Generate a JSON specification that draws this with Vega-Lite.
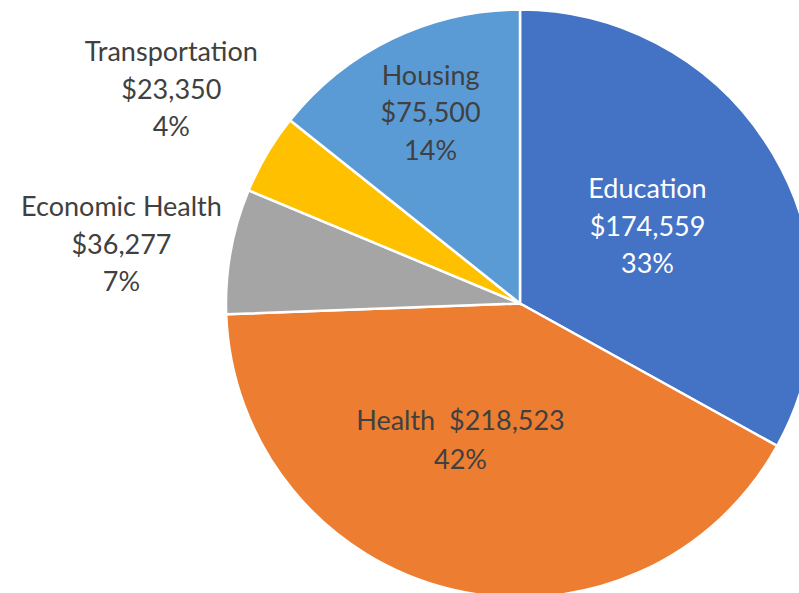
{
  "$schema": "https://vega.github.io/schema/vega-lite/v6.json",
  "autosize": "none",
  "width": 558,
  "height": 579,
  "padding": {"left": 241, "top": 14, "right": 0, "bottom": 0},
  "background": "white",
  "config": {"view": {"stroke": null}},
  "data": {
    "values": [
      {"rank": 1, "category": "Education", "amount": 174559, "label": "Education\n$174,559\n33%"},
      {"rank": 2, "category": "Health", "amount": 218523, "label": "Health\u00a0\u00a0$218,523\n42%"},
      {"rank": 3, "category": "Economic Health", "amount": 36277, "label": "Economic Health\n$36,277\n7%"},
      {"rank": 4, "category": "Transportation", "amount": 23350, "label": "Transportation\n$23,350\n4%"},
      {"rank": 5, "category": "Housing", "amount": 75500, "label": "Housing\n$75,500\n14%"}
    ]
  },
  "encoding": {
    "theta": {"field": "amount", "type": "quantitative", "stack": true},
    "order": {"field": "rank", "type": "quantitative"}
  },
  "layer": [
    {
      "mark": {"type": "arc", "outerRadius": 294, "stroke": "white", "strokeWidth": 2.5},
      "encoding": {
        "color": {
          "field": "category",
          "type": "nominal",
          "scale": {
            "domain": ["Education", "Health", "Economic Health", "Transportation", "Housing"],
            "range": ["#4472C4", "#ED7D31", "#A5A5A5", "#FFC000", "#5B9BD5"]
          },
          "legend": null
        }
      }
    },
    {
      "mark": {"type": "text", "radius": 148, "dy": -38, "font": "Lato", "fontSize": 27, "lineHeight": 37.5, "lineBreak": "\n", "align": "center", "baseline": "middle", "fill": "white"},
      "encoding": {
        "text": {"condition": {"test": "datum.category === 'Education'", "field": "label"}, "value": ""}
      }
    },
    {
      "mark": {"type": "text", "radius": 140, "dx": -27, "dy": -18, "font": "Lato", "fontSize": 27, "lineHeight": 39, "lineBreak": "\n", "align": "center", "baseline": "middle", "fill": "#404040"},
      "encoding": {
        "text": {"condition": {"test": "datum.category === 'Health'", "field": "label"}, "value": ""}
      }
    },
    {
      "mark": {"type": "text", "radius": 206, "dy": -41, "font": "Lato", "fontSize": 27, "lineHeight": 37.5, "lineBreak": "\n", "align": "center", "baseline": "middle", "fill": "#404040"},
      "encoding": {
        "text": {"condition": {"test": "datum.category === 'Housing'", "field": "label"}, "value": ""}
      }
    },
    {
      "mark": {"type": "text", "radius": 405, "dy": -23, "font": "Lato", "fontSize": 27, "lineHeight": 37.5, "lineBreak": "\n", "align": "center", "baseline": "middle", "fill": "#404040"},
      "encoding": {
        "text": {"condition": {"test": "datum.category === 'Economic Health'", "field": "label"}, "value": ""}
      }
    },
    {
      "mark": {"type": "text", "radius": 405, "dy": -44, "font": "Lato", "fontSize": 27, "lineHeight": 37.5, "lineBreak": "\n", "align": "center", "baseline": "middle", "fill": "#404040"},
      "encoding": {
        "text": {"condition": {"test": "datum.category === 'Transportation'", "field": "label"}, "value": ""}
      }
    }
  ]
}
